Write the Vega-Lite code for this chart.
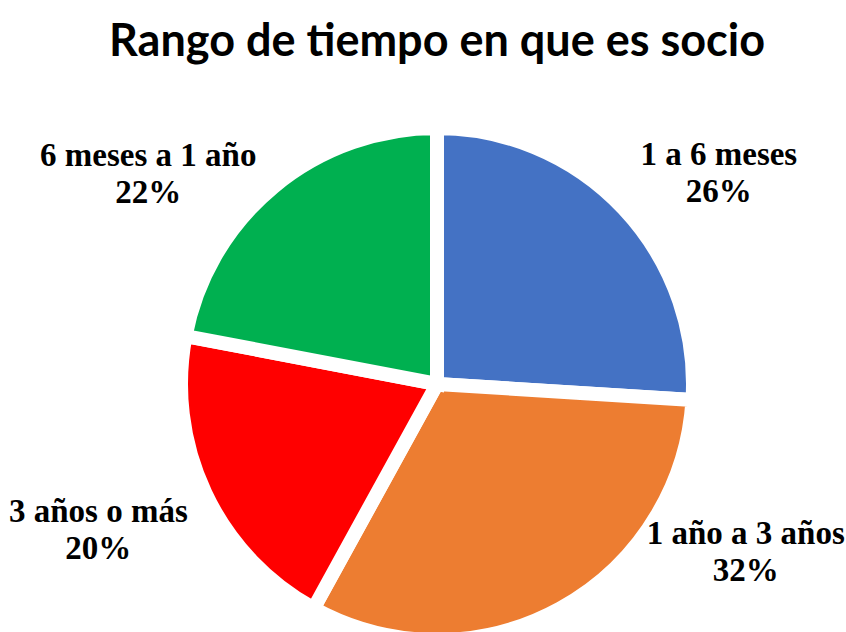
{
  "$schema": "https://vega.github.io/schema/vega-lite/v6.json",
  "autosize": {"type": "none"},
  "width": 818,
  "height": 496,
  "padding": {"left": 28, "top": 136, "right": 0, "bottom": 0},
  "background": "white",
  "title": {
    "text": "Rango de tiempo en que es socio",
    "font": "Lato",
    "fontSize": 45,
    "fontWeight": "bold",
    "color": "#000000",
    "anchor": "middle",
    "frame": "group",
    "offset": 35
  },
  "data": {
    "values": [
      {"rango": "1 a 6 meses", "porcentaje": 26},
      {"rango": "1 año a 3 años", "porcentaje": 32},
      {"rango": "3 años o más", "porcentaje": 20},
      {"rango": "6 meses a 1 año", "porcentaje": 22}
    ]
  },
  "transform": [
    {"calculate": "datum.rango + '\\n' + datum.porcentaje + '%'", "as": "etiqueta"}
  ],
  "encoding": {
    "theta": {"field": "porcentaje", "type": "quantitative", "stack": true},
    "order": {"field": "rango", "type": "ordinal", "sort": "ascending"},
    "color": {
      "field": "rango",
      "type": "nominal",
      "scale": {
        "domain": ["1 a 6 meses", "1 año a 3 años", "3 años o más", "6 meses a 1 año"],
        "range": ["#4472C4", "#ED7D31", "#FF0000", "#00B050"]
      },
      "legend": null
    }
  },
  "layer": [
    {
      "mark": {"type": "arc", "outerRadius": 256, "stroke": "white", "strokeWidth": 14}
    },
    {
      "mark": {
        "type": "text",
        "radius": 340,
        "font": "Liberation Serif",
        "fontSize": 33,
        "fontWeight": "bold",
        "lineBreak": "\n",
        "lineHeight": 37,
        "align": "center",
        "baseline": "middle",
        "fill": "#000000",
        "dx": {"expr": "datum.rango == '1 a 6 meses' ? 34 : datum.rango == '1 año a 3 años' ? 145 : datum.rango == '3 años o más' ? -31 : -72"},
        "dy": {"expr": "datum.rango == '1 a 6 meses' ? 4 : datum.rango == '1 año a 3 años' ? -148 : datum.rango == '3 años o más' ? -17 : 34"}
      },
      "encoding": {
        "text": {"field": "etiqueta", "type": "nominal"},
        "color": {"value": "#000000"}
      }
    }
  ]
}
